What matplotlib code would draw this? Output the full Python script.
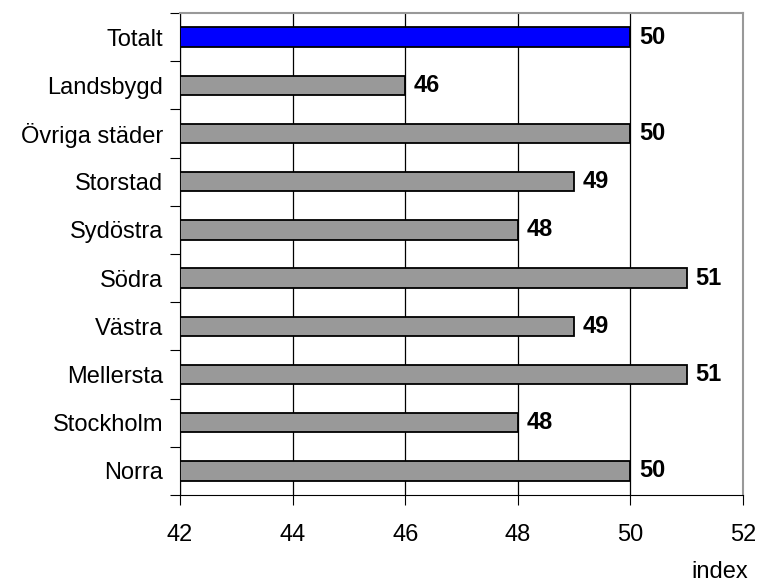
import numpy as np
import matplotlib
matplotlib.use("Agg")
import matplotlib.pyplot as plt

# data, bottom to top
categories = ["Norra", "Stockholm", "Mellersta", "Västra", "Södra",
              "Sydöstra", "Storstad", "Övriga städer", "Landsbygd", "Totalt"]
values = [50, 48, 51, 49, 51, 48, 49, 50, 46, 50]
colors = ["#999999"] * 9 + ["#0000FF"]

plt.rcParams["font.family"] = ["Liberation Sans", "DejaVu Sans"]

fig = plt.figure(figsize=(7.59, 5.85), dpi=100)
ax = fig.add_axes([180 / 759, 1 - 495 / 585, 563 / 759, 482 / 585])

y = np.arange(len(categories))
base = 42
ax.barh(y, np.array(values) - base, left=base, height=0.4, color=colors,
        edgecolor="black", linewidth=1.3, zorder=3)

for yi, v in zip(y, values):
    ax.text(v + 0.15, yi, str(v), va="center", ha="left",
            fontsize=17, fontweight="bold", zorder=4)

ax.set_xlim(42, 52)
ax.set_ylim(-0.5, len(categories) - 0.5)
ax.set_xticks([42, 44, 46, 48, 50, 52])
ax.tick_params(axis="x", labelsize=17, length=7, direction="out", pad=14)

# category labels between the boundary ticks
ax.set_yticks(np.arange(-0.5, len(categories), 1.0))
ax.set_yticklabels([])
ax.set_yticks(y, minor=True)
ax.set_yticklabels(categories, minor=True)
ax.tick_params(axis="y", which="major", length=7, direction="out")
ax.tick_params(axis="y", which="minor", length=0, labelsize=17, pad=12)

ax.grid(axis="x", color="black", linewidth=0.9, zorder=0)
for s in ["left", "bottom"]:
    ax.spines[s].set_color("black")
for s in ["top", "right"]:
    ax.spines[s].set_color("#999999")
    ax.spines[s].set_linewidth(1.5)

fig.text(720 / 759, 1 - 572 / 585, "index", ha="center", va="center",
         fontsize=17)

fig.savefig("out.png", dpi=100)
